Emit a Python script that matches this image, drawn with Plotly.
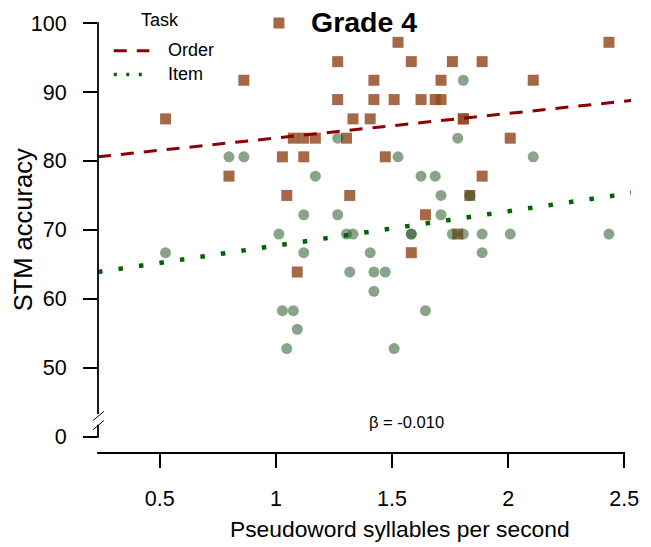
import plotly.graph_objects as go

# ---------------- data ----------------
syll_rate = [0.525, 0.798, 0.862, 1.013, 1.028, 1.047, 1.075, 1.092, 1.120, 1.120,
             1.170, 1.266, 1.266, 1.304, 1.318, 1.332, 1.406, 1.422, 1.422, 1.471,
             1.509, 1.526, 1.583, 1.583, 1.625, 1.644, 1.686, 1.711, 1.711, 1.760,
             1.783, 1.807, 1.807, 1.835, 1.888, 1.888, 2.009, 2.108, 2.434]
order_acc = [86.1, 77.8, 91.7, 100.0, 80.6, 75.0, 83.3, 63.9, 83.3, 80.6,
             83.3, 94.4, 88.9, 83.3, 75.0, 86.1, 86.1, 91.7, 88.9, 80.6,
             88.9, 97.2, 94.4, 66.7, 88.9, 72.2, 88.9, 88.9, 91.7, 94.4,
             69.4, 86.1, 86.1, 75.0, 94.4, 77.8, 83.3, 91.7, 97.2]
item_acc = [66.7, 80.6, 80.6, 69.4, 58.3, 52.8, 58.3, 55.6, 72.2, 66.7,
            77.8, 83.3, 72.2, 69.4, 63.9, 69.4, 66.7, 63.9, 61.1, 63.9,
            52.8, 80.6, 69.4, 69.4, 77.8, 58.3, 77.8, 75.0, 72.2, 69.4,
            83.3, 91.7, 69.4, 75.0, 69.4, 66.7, 69.4, 80.6, 69.4]

fit_x = [0.234, 2.53]
order_fit_y = [80.6, 88.77]
item_fit_y = [63.9, 75.35]

x_ticks = [0.5, 1, 1.5, 2, 2.5]
x_tick_text = ["0.5", "1", "1.5", "2", "2.5"]
y_ticks = [40, 50, 60, 70, 80, 90, 100]
y_tick_text = ["0", "50", "60", "70", "80", "90", "100"]

title_text = "Grade 4"
x_title = "Pseudoword syllables per second"
y_title = "STM accuracy"
beta_text = "β = -0.010"
legend_title = "Task"
legend_names = ["Order", "Item"]

# ---------------- layout geometry ----------------
W, H = 651, 547
L, R, T, B = 98, 13, 20, 93.5
X_RANGE = [0.234, 2.529]
Y_RANGE = [37.66, 100]
plot_w = W - L - R
plot_h = H - T - B


def px(xp):
    return (xp - L) / plot_w


def py(yp):
    return (H - B - yp) / plot_h


def xval_to_paper(v):
    return (v - X_RANGE[0]) / (X_RANGE[1] - X_RANGE[0])


def yval_to_paper(v):
    return (v - Y_RANGE[0]) / (Y_RANGE[1] - Y_RANGE[0])


FONT = "Liberation Sans, Arial, sans-serif"
brown = "rgba(145,72,30,0.82)"
green = "rgba(40,90,40,0.55)"
red_line = "#8B0000"
green_line = "#006400"
order_dash = "13px,10px"
item_dash = "4.5px,16.2px"

fig = go.Figure()
fig.add_trace(go.Scatter(x=syll_rate, y=order_acc, mode="markers", name="Order",
                         marker=dict(symbol="square", size=11, color=brown, line=dict(width=0)),
                         cliponaxis=False, showlegend=False))
fig.add_trace(go.Scatter(x=syll_rate, y=item_acc, mode="markers", name="Item",
                         marker=dict(symbol="circle", size=11, color=green, line=dict(width=0)),
                         cliponaxis=False, showlegend=False))
fig.add_trace(go.Scatter(x=fit_x, y=order_fit_y, mode="lines", name="Order fit",
                         line=dict(color=red_line, width=3, dash=order_dash), showlegend=False))
fig.add_trace(go.Scatter(x=fit_x, y=item_fit_y, mode="lines", name="Item fit",
                         line=dict(color=green_line, width=4.5, dash=item_dash), showlegend=False))

shapes = []
ax_w = 1.8
# y axis with a break
shapes.append(dict(type="line", xref="paper", yref="paper", x0=0, x1=0,
                   y0=yval_to_paper(100) + 0.002, y1=yval_to_paper(43.3),
                   line=dict(color="black", width=ax_w)))
shapes.append(dict(type="line", xref="paper", yref="paper", x0=0, x1=0,
                   y0=yval_to_paper(41.75), y1=yval_to_paper(40) - 0.002,
                   line=dict(color="black", width=ax_w)))
# break marks
for y0p, y1p in [(420.7, 411.5), (430.0, 420.8)]:
    shapes.append(dict(type="line", xref="paper", yref="paper", x0=px(93), x1=px(104),
                       y0=py(y0p), y1=py(y1p), line=dict(color="black", width=1)))
# x axis line (drawn as a thin rectangle so it always renders)
shapes.append(dict(type="rect", xref="paper", yref="paper", x0=-0.0017, x1=xval_to_paper(2.5) + 0.0017,
                   y0=py(454.4), y1=py(452.6), fillcolor="black", line=dict(width=0)))
# legend samples
shapes.append(dict(type="line", xref="paper", yref="paper", x0=px(114), x1=px(150), y0=py(48), y1=py(48),
                   line=dict(color=red_line, width=3, dash=order_dash)))
shapes.append(dict(type="line", xref="paper", yref="paper", x0=px(114), x1=px(150), y0=py(72), y1=py(72),
                   line=dict(color=green_line, width=3.5, dash="3px,9.5px")))

annotations = [
    dict(text="<b>%s</b>" % title_text, x=px(367.5), y=py(19), xref="paper", yref="paper",
         xanchor="center", yanchor="middle", showarrow=False, font=dict(size=28.5, color="black", family=FONT)),
    dict(text=legend_title, x=px(161), y=py(17), xref="paper", yref="paper",
         xanchor="center", yanchor="middle", showarrow=False, font=dict(size=18, color="black", family=FONT)),
    dict(text=legend_names[0], x=px(167), y=py(47.5), xref="paper", yref="paper",
         xanchor="left", yanchor="middle", showarrow=False, font=dict(size=18, color="black", family=FONT)),
    dict(text=legend_names[1], x=px(167), y=py(71.5), xref="paper", yref="paper",
         xanchor="left", yanchor="middle", showarrow=False, font=dict(size=18, color="black", family=FONT)),
    dict(text=beta_text, x=px(411), y=py(422), xref="paper", yref="paper",
         xanchor="center", yanchor="middle", showarrow=False, font=dict(size=16.5, color="black", family=FONT)),
    dict(text=x_title, x=px(404), y=py(530), xref="paper", yref="paper",
         xanchor="center", yanchor="middle", showarrow=False, font=dict(size=22.8, color="black", family=FONT)),
    dict(text=y_title, x=px(22), y=py(228), xref="paper", yref="paper", textangle=-90,
         xanchor="center", yanchor="middle", showarrow=False, font=dict(size=25.5, color="black", family=FONT)),
]

fig.update_layout(
    width=W, height=H,
    margin=dict(l=L, r=R, t=T, b=B, pad=0),
    paper_bgcolor="white", plot_bgcolor="white",
    showlegend=False,
    shapes=shapes, annotations=annotations,
    font=dict(family=FONT, color="black"),
    xaxis=dict(range=X_RANGE, tickvals=x_ticks, ticktext=x_tick_text, showgrid=False, zeroline=False,
               showline=False, ticks="outside", ticklen=14, tickwidth=1.8, tickcolor="black",
               ticklabelstandoff=12, tickfont=dict(size=21.5, family=FONT, color="black")),
    yaxis=dict(range=Y_RANGE, tickvals=y_ticks, ticktext=y_tick_text, showgrid=False, zeroline=False,
               showline=False, ticks="outside", ticklen=14, tickwidth=1.8, tickcolor="black",
               ticklabelstandoff=12, tickfont=dict(size=21.5, family=FONT, color="black")),
)

fig.write_html("out.html")
